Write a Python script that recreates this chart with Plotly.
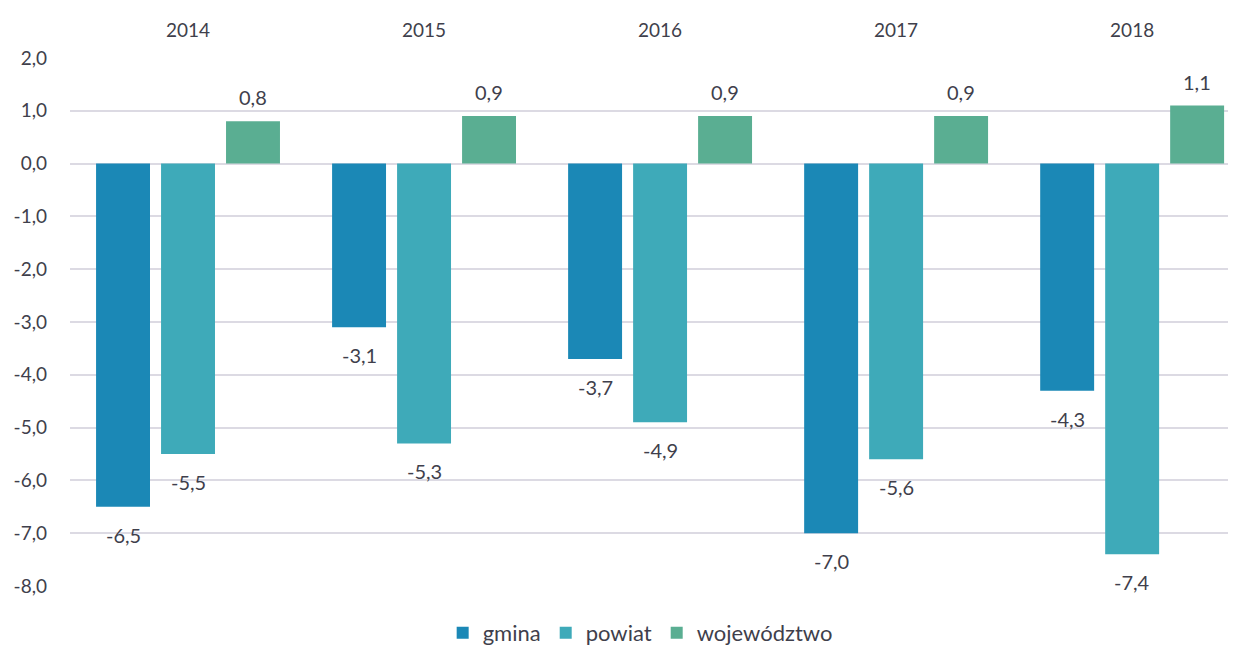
import plotly.graph_objects as go

years = ["2014", "2015", "2016", "2017", "2018"]
gmina = [-6.5, -3.1, -3.7, -7.0, -4.3]
powiat = [-5.5, -5.3, -4.9, -5.6, -7.4]
wojewodztwo = [0.8, 0.9, 0.9, 0.9, 1.1]
yticks = [2, 1, 0, -1, -2, -3, -4, -5, -6, -7, -8]


def fmt(v):
    return f"{v:.1f}".replace(".", ",")


series = [
    ("gmina", gmina, "#1b88b6"),
    ("powiat", powiat, "#3eaab9"),
    ("województwo", wojewodztwo, "#5aae92"),
]

text_color = "#3f3f4c"
font_family = "Lato, Open Sans, DejaVu Sans, sans-serif"
bargap = 0.174
slot = (1 - bargap) / len(series)

fig = go.Figure()
annotations = []
for si, (name, vals, color) in enumerate(series):
    fig.add_trace(go.Bar(
        x=years, y=vals, name=name,
        marker=dict(color=color, line=dict(width=0)),
    ))
    offset = (si - (len(series) - 1) / 2) * slot
    for ci, v in enumerate(vals):
        annotations.append(dict(
            x=ci + offset, y=v, xref="x", yref="y", text=fmt(v), showarrow=False,
            yshift=24 if v >= 0 else -28, yanchor="middle",
            font=dict(size=20, color=text_color, family=font_family),
        ))

fig.update_layout(
    width=1236, height=647,
    margin=dict(l=62, r=8, t=50, b=69),
    paper_bgcolor="white", plot_bgcolor="white",
    barmode="group", bargap=bargap, bargroupgap=0.17,
    font=dict(family=font_family, color=text_color, size=19),
    annotations=annotations,
    legend=dict(orientation="h", x=0.489, xanchor="center", yref="container", y=0.034,
                yanchor="middle", font=dict(size=22, color=text_color), itemwidth=30,
                traceorder="normal"),
    xaxis=dict(side="top", range=[-0.5, 4.44], showgrid=False, showline=False,
               ticks="", ticklabelstandoff=16, tickfont=dict(size=19), automargin=False),
    yaxis=dict(range=[-8, 2], tickvals=yticks, ticktext=[fmt(v) for v in yticks],
               showgrid=True, gridcolor="#dcdae3", gridwidth=2,
               zeroline=True, zerolinecolor="#dcdae3", zerolinewidth=2,
               showline=False, ticks="", ticklabelstandoff=22, tickfont=dict(size=19),
               automargin=False),
)

fig.write_html("out.html")
